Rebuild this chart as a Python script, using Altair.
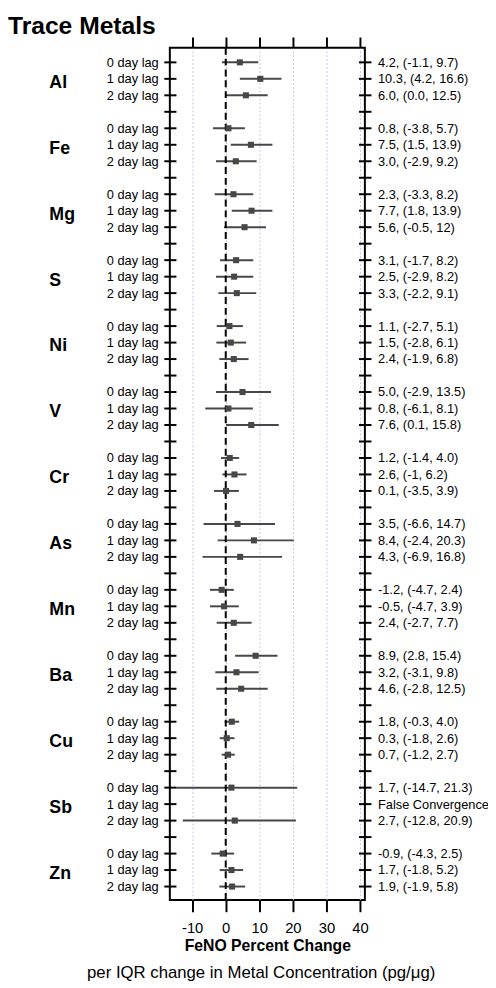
import altair as alt
import pandas as pd

# ---------------- data ----------------
metals = ["Al", "Fe", "Mg", "S", "Ni", "V", "Cr", "As", "Mn", "Ba", "Cu", "Sb", "Zn"]
lags = ["0 day lag", "1 day lag", "2 day lag"]

estimate = [4.2, 10.3, 6.0,   0.8, 7.5, 3.0,   2.3, 7.7, 5.6,   3.1, 2.5, 3.3,
            1.1, 1.5, 2.4,    5.0, 0.8, 7.6,   1.2, 2.6, 0.1,   3.5, 8.4, 4.3,
            -1.2, -0.5, 2.4,  8.9, 3.2, 4.6,   1.8, 0.3, 0.7,   1.7, None, 2.7,
            -0.9, 1.7, 1.9]
lower = [-1.1, 4.2, 0.0,   -3.8, 1.5, -2.9,   -3.3, 1.8, -0.5,   -1.7, -2.9, -2.2,
         -2.7, -2.8, -1.9, -2.9, -6.1, 0.1,   -1.4, -1.0, -3.5,  -6.6, -2.4, -6.9,
         -4.7, -4.7, -2.7,  2.8, -3.1, -2.8,  -0.3, -1.8, -1.2,  -14.7, None, -12.8,
         -4.3, -1.8, -1.9]
upper = [9.7, 16.6, 12.5,  5.7, 13.9, 9.2,   8.2, 13.9, 12.0,   8.2, 8.2, 9.1,
         5.1, 6.1, 6.8,    13.5, 8.1, 15.8,  4.0, 6.2, 3.9,     14.7, 20.3, 16.8,
         2.4, 3.9, 7.7,    15.4, 9.8, 12.5,  4.0, 2.6, 2.7,     21.3, None, 20.9,
         2.5, 5.2, 5.8]
ci_text = ["4.2, (-1.1, 9.7)", "10.3, (4.2, 16.6)", "6.0, (0.0, 12.5)",
           "0.8, (-3.8, 5.7)", "7.5, (1.5, 13.9)", "3.0, (-2.9, 9.2)",
           "2.3, (-3.3, 8.2)", "7.7, (1.8, 13.9)", "5.6, (-0.5, 12)",
           "3.1, (-1.7, 8.2)", "2.5, (-2.9, 8.2)", "3.3, (-2.2, 9.1)",
           "1.1, (-2.7, 5.1)", "1.5, (-2.8, 6.1)", "2.4, (-1.9, 6.8)",
           "5.0, (-2.9, 13.5)", "0.8, (-6.1, 8.1)", "7.6, (0.1, 15.8)",
           "1.2, (-1.4, 4.0)", "2.6, (-1, 6.2)", "0.1, (-3.5, 3.9)",
           "3.5, (-6.6, 14.7)", "8.4, (-2.4, 20.3)", "4.3, (-6.9, 16.8)",
           "-1.2, (-4.7, 2.4)", "-0.5, (-4.7, 3.9)", "2.4, (-2.7, 7.7)",
           "8.9, (2.8, 15.4)", "3.2, (-3.1, 9.8)", "4.6, (-2.8, 12.5)",
           "1.8, (-0.3, 4.0)", "0.3, (-1.8, 2.6)", "0.7, (-1.2, 2.7)",
           "1.7, (-14.7, 21.3)", "False Convergence", "2.7, (-12.8, 20.9)",
           "-0.9, (-4.3, 2.5)", "1.7, (-1.8, 5.2)", "1.9, (-1.9, 5.8)"]
x_ticks = [-10, 0, 10, 20, 30, 40]

# ---------------- tables ----------------
rows = []
for i, m in enumerate(metals):
    for j, lag in enumerate(lags):
        n = 3 * i + j
        rows.append(dict(metal=m, lag=lag, row=4 * i + j, est=estimate[n],
                         lo=lower[n], hi=upper[n], ci=ci_text[n]))
df = pd.DataFrame(rows)
df_ticks = pd.DataFrame({"row": list(range(4 * len(metals) - 1))})
df_metal = pd.DataFrame({"metal": metals, "row": [4 * i + 1 for i in range(len(metals))]})
df_zero = pd.DataFrame({"zero": [0]})
df_title = pd.DataFrame({"t": ["Trace Metals"]})
df_caption = pd.DataFrame({"t": ["per IQR change in Metal Concentration (pg/\u03bcg)"]})

FONT = "Liberation Sans"
W, H = 198, 865
xs = alt.Scale(domain=[-16.65, 41.45], nice=False, zero=False)
ys = alt.Scale(domain=[-0.88, 50.81], reverse=True, nice=False, zero=False)
Y = alt.Y("row:Q", scale=ys, axis=None)
GRAY = "#474747"

bottom_axis = alt.Axis(values=x_ticks, labelExpr="'' + datum.value", orient="bottom",
                       title="FeNO Percent Change", titleFont=FONT, titleFontSize=16,
                       titleFontWeight="bold", titleColor="black", titleY=51,
                       titleBaseline="alphabetic",
                       labelFont=FONT, labelFontSize=15, labelColor="black", labelPadding=9,
                       tickSize=12, tickWidth=2, tickColor="black", domain=False,
                       grid=True, gridColor="#c4c4e6", gridDash=[2, 2], gridWidth=1)
top_axis = alt.Axis(values=x_ticks, orient="top", labels=False, title=None,
                    tickSize=11, tickWidth=2, tickColor="black", domain=False, grid=False)

bars = alt.Chart(df).mark_rule(color=GRAY, strokeWidth=2).encode(
    x=alt.X("lo:Q", scale=xs, axis=bottom_axis), x2="hi:Q", y=Y)

zero = alt.Chart(df_zero).mark_rule(color="black", strokeWidth=2, strokeDash=[7, 4]).encode(
    x=alt.X("zero:Q", scale=xs, axis=top_axis))

points = alt.Chart(df).mark_square(size=38, color=GRAY, opacity=1).encode(
    x=alt.X("est:Q", scale=xs, axis=None), y=Y)

lticks = alt.Chart(df_ticks).mark_rule(color="black", strokeWidth=2).encode(
    x=alt.value(-5.6), x2=alt.value(6.7), y=Y)
rticks = alt.Chart(df_ticks).mark_rule(color="black", strokeWidth=2).encode(
    x=alt.value(W - 6), x2=alt.value(W + 6.7), y=Y)

lag_text = alt.Chart(df).mark_text(font=FONT, fontSize=13, align="right",
                                   baseline="alphabetic", dy=4.5, color="black").encode(
    x=alt.value(-11.3), y=Y, text="lag:N")
ci_lab = alt.Chart(df).mark_text(font=FONT, fontSize=13, align="left",
                                 baseline="alphabetic", dy=4.5, color="black").encode(
    x=alt.value(W + 13.3), y=Y, text="ci:N")
metal_text = alt.Chart(df_metal).mark_text(font=FONT, fontSize=18, fontWeight="bold",
                                           align="left", baseline="alphabetic", dy=9,
                                           color="black").encode(
    x=alt.value(-122.3), y=Y, text="metal:N")
title = alt.Chart(df_title).mark_text(font=FONT, fontSize=25, fontWeight="bold",
                                      align="left", baseline="alphabetic",
                                      color="black").encode(
    x=alt.value(-164.3), y=alt.value(-14), text="t:N")
caption = alt.Chart(df_caption).mark_text(font=FONT, fontSize=17, align="center",
                                          baseline="alphabetic", color="black").encode(
    x=alt.value(92.7), y=alt.value(944), text="t:N")

chart = alt.layer(bars, zero, points, lticks, rticks, lag_text, ci_lab, metal_text,
                  title, caption).resolve_axis(x="independent").properties(
    width=W, height=H, autosize="none",
    padding={"left": 164.3, "top": 33, "right": 125, "bottom": 83},
).configure(font=FONT).configure_view(stroke="black", strokeWidth=2)

chart.save("out.html", embed_options={"renderer": "svg", "actions": False})
